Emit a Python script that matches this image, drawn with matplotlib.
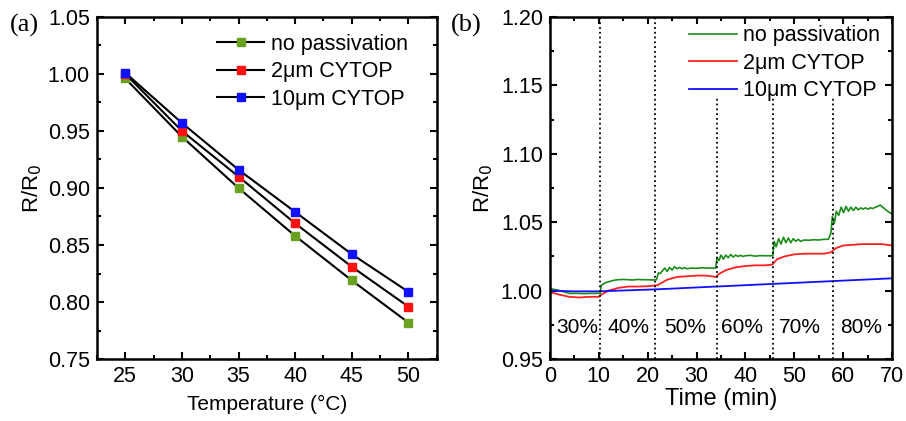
import matplotlib
matplotlib.use("Agg")
import matplotlib.pyplot as plt
from matplotlib.ticker import MultipleLocator

plt.rcParams['font.family'] = ['Liberation Sans', 'DejaVu Sans']

# (a) temperature response
temp = [25, 30, 35, 40, 45, 50]
r_nopass = [0.996, 0.945, 0.900, 0.858, 0.819, 0.782]
r_2um = [1.000, 0.950, 0.910, 0.869, 0.831, 0.796]
r_10um = [1.001, 0.957, 0.916, 0.879, 0.842, 0.809]

# (b) humidity response
t_green = [0, 0.5, 1, 1.5, 2, 2.5, 3, 3.5, 4, 5, 6, 7, 8, 9, 10, 10.3,
           10.5, 11, 11.5, 12, 12.5, 13, 13.5, 14, 15, 16, 17, 18, 19, 20, 21, 21.8,
           22.2, 22.6, 23, 23.5, 24, 24.5, 25, 25.5, 26, 26.5, 27, 27.5, 28, 29, 30, 31, 32, 33, 33.9,
           34.2, 34.6, 35, 35.5, 36, 36.5, 37, 37.5, 38, 38.5, 39, 39.5, 40, 41, 42, 43, 44, 45, 45.6,
           45.9, 46.3, 46.8, 47.3, 47.8, 48.3, 48.8, 49.3, 49.8, 50.3, 50.8, 51.3, 52, 53, 54, 55, 56, 57, 57.5,
           57.8, 58.2, 58.6, 59.1, 59.6, 60.1, 60.6, 61.1, 61.6, 62.1, 62.6, 63.1, 63.6, 64.1, 64.6,
           65.1, 65.6, 66.1, 66.6, 67.1, 67.6, 68.1, 68.6, 69.1, 69.6, 70]
r_green = [1.001, 1.0012, 1.0008, 1.0005, 1.0, 0.9995, 0.999, 0.9985, 0.998, 0.998, 0.998, 0.9978, 0.998, 0.998, 0.998, 0.998,
           1.004, 1.005, 1.006, 1.0065, 1.007, 1.0075, 1.0078, 1.008, 1.0082, 1.008, 1.0078, 1.0082, 1.008, 1.008, 1.0078, 1.008,
           1.013, 1.0125, 1.0145, 1.0165, 1.014, 1.017, 1.015, 1.0175, 1.016, 1.017, 1.016, 1.0168, 1.016, 1.0165, 1.0163, 1.0167, 1.0165, 1.0165, 1.0165,
           1.024, 1.022, 1.026, 1.023, 1.026, 1.024, 1.0265, 1.0245, 1.026, 1.025, 1.0258, 1.025, 1.0255, 1.0258, 1.0252, 1.0256, 1.0255, 1.0255, 1.0255,
           1.036, 1.032, 1.038, 1.034, 1.039, 1.035, 1.0385, 1.035, 1.038, 1.036, 1.0375, 1.036, 1.037, 1.0368, 1.0372, 1.037, 1.0375, 1.0375, 1.042,
           1.054, 1.049, 1.058, 1.055, 1.061, 1.057, 1.0615, 1.058, 1.061, 1.0585, 1.061, 1.059, 1.0605, 1.0595, 1.0605,
           1.0595, 1.0605, 1.060, 1.061, 1.0615, 1.0625, 1.061, 1.0595, 1.058, 1.057, 1.056]

t_red = [0, 2, 4, 6, 8, 10, 10.5, 12, 14, 16, 18, 20, 22, 23, 24, 26, 28, 30, 32, 34,
         34.5, 36, 38, 40, 42, 44, 45.5, 46.5, 48, 50, 52, 54, 56, 57.5, 58.5, 60, 62, 64, 66, 68, 70]
r_red = [0.999, 0.997, 0.9955, 0.995, 0.9955, 0.9955, 0.997, 1.000, 1.002, 1.003, 1.003, 1.0032, 1.004,
         1.006, 1.008, 1.010, 1.0105, 1.011, 1.011, 1.010, 1.012, 1.015, 1.017, 1.018, 1.0185, 1.0185,
         1.019, 1.023, 1.025, 1.0265, 1.027, 1.027, 1.027, 1.028, 1.031, 1.033, 1.0335, 1.034, 1.034, 1.034, 1.033]

t_blue = [0, 5, 10, 22, 34, 46, 58, 70]
r_blue = [1.000, 0.9995, 0.9995, 1.001, 1.003, 1.005, 1.007, 1.009]

rh_steps = [10.15, 21.6, 34.1, 45.6, 58.0]
rh_labels = ['30%', '40%', '50%', '60%', '70%', '80%']
rh_label_x = [5.5, 16.0, 27.6, 39.3, 51.2, 63.7]

fig = plt.figure(figsize=(9.06, 4.21), dpi=100)
ax1 = fig.add_axes([0.107, 0.147, 0.375, 0.813])
ax2 = fig.add_axes([0.607, 0.147, 0.3775, 0.813])

ms = 6
ax1.plot(temp, r_nopass, color='black', lw=1.5, marker='s', ms=ms, mfc='#6aa121', mec='#6aa121', label='no passivation')
ax1.plot(temp, r_2um, color='black', lw=1.5, marker='s', ms=ms, mfc='#ff1010', mec='#ff1010', label='2μm CYTOP')
ax1.plot(temp, r_10um, color='black', lw=1.5, marker='s', ms=ms, mfc='#1010ff', mec='#1010ff', label='10μm CYTOP')
ax1.set_xlim(22.5, 52.5)
ax1.set_ylim(0.75, 1.05)
ax1.xaxis.set_major_locator(MultipleLocator(5))
ax1.xaxis.set_minor_locator(MultipleLocator(2.5))
ax1.yaxis.set_major_locator(MultipleLocator(0.05))
ax1.yaxis.set_minor_locator(MultipleLocator(0.025))
ax1.yaxis.set_major_formatter(matplotlib.ticker.FormatStrFormatter('%.2f'))
ax1.set_xlabel('Temperature (°C)', fontsize=15, labelpad=6)
ax1.set_ylabel('R/R$_0$', fontsize=16, labelpad=3)
ax1.legend(loc='upper right', bbox_to_anchor=(0.94, 0.975), borderaxespad=0,
           frameon=False, fontsize=15.5, handlelength=2.2,
           handletextpad=0.3, labelspacing=0.3)
ax1.text(-0.255, 1.01, '(a)', transform=ax1.transAxes, fontsize=19,
         family='Liberation Serif', va='top')

ax2.plot(t_green, r_green, color='#1a8c1a', lw=1.2, label='no passivation')
ax2.plot(t_red, r_red, color='#ff2020', lw=1.3, label='2μm CYTOP')
ax2.plot(t_blue, r_blue, color='#1010ff', lw=1.3, label='10μm CYTOP')
for i, x in enumerate(rh_steps):
    top = 1.20 if i < 2 else 1.142
    ax2.plot([x, x], [0.95, top], color='black', ls=':', lw=1.3)
for x, lab in zip(rh_label_x, rh_labels):
    ax2.text(x, 0.973, lab, ha='center', va='center', fontsize=15)
ax2.set_xlim(0, 70)
ax2.set_ylim(0.95, 1.20)
ax2.xaxis.set_major_locator(MultipleLocator(10))
ax2.xaxis.set_minor_locator(MultipleLocator(5))
ax2.yaxis.set_major_locator(MultipleLocator(0.05))
ax2.yaxis.set_minor_locator(MultipleLocator(0.025))
ax2.yaxis.set_major_formatter(matplotlib.ticker.FormatStrFormatter('%.2f'))
ax2.set_xlabel('Time (min)', fontsize=17, labelpad=1)
ax2.set_ylabel('R/R$_0$', fontsize=16, labelpad=4)
ax2.legend(loc='upper right', bbox_to_anchor=(0.991, 1.0), borderaxespad=0,
           frameon=False, fontsize=15.5, handlelength=2.2,
           handletextpad=0.3, labelspacing=0.3)
ax2.text(-0.29, 1.01, '(b)', transform=ax2.transAxes, fontsize=19,
         family='Liberation Serif', va='top')

for ax in (ax1, ax2):
    for s in ax.spines.values():
        s.set_linewidth(1.8)
    ax.tick_params(which='both', direction='in', top=True, right=True, labelsize=15.5, width=1.5)
    ax.tick_params(which='major', length=5, pad=5)
    ax.tick_params(which='minor', length=3)

fig.savefig('out.png', dpi=100)
